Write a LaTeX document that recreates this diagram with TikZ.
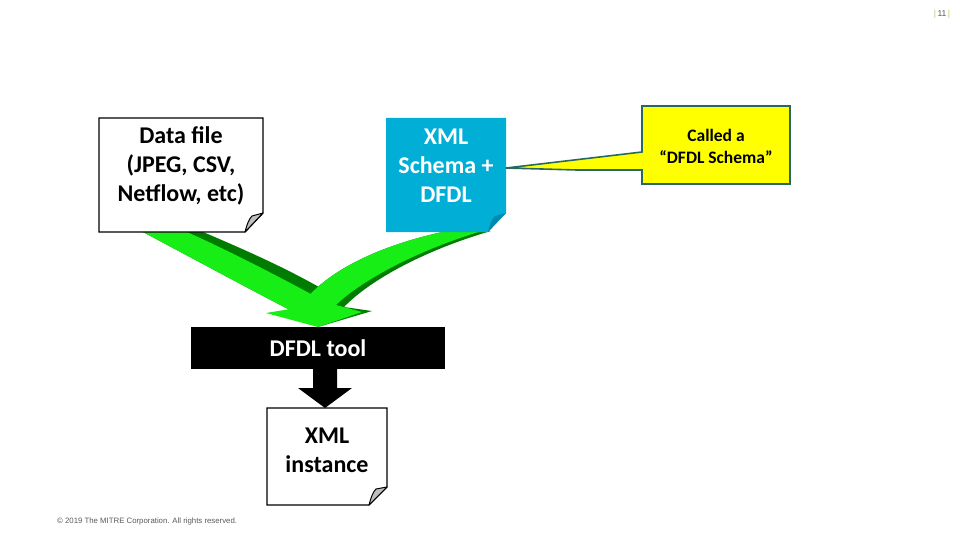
\documentclass[tikz,border=0pt]{standalone}
\usepackage{fontspec}
\setmainfont{Carlito}
\newfontfamily\arialfont{Liberation Sans}
\definecolor{lgreen}{RGB}{22,238,22}
\definecolor{dgreen}{RGB}{0,125,0}
\definecolor{sblue}{RGB}{0,174,214}
\definecolor{fblue}{RGB}{0,136,176}
\definecolor{cborder}{RGB}{40,105,95}
\definecolor{cyel}{RGB}{255,255,0}
\definecolor{foldgray}{RGB}{190,190,190}
\definecolor{copygray}{RGB}{90,90,90}
\definecolor{barcol}{RGB}{200,190,90}
\begin{document}
\begin{tikzpicture}[x=1pt,y=-1pt,
  bigtext/.style={font=\fontsize{24}{29}\selectfont\bfseries, align=center, inner sep=0pt},
  paperbox/.style={draw=black, line width=1.3pt, fill=white},
  foldw/.style={draw=black, line width=1pt, fill=foldgray, line join=round},
  ]
\useasboundingbox (0,0) rectangle (960,540);
\fill[white] (0,0) rectangle (960,540);

% ---- green arrows ----
\fill[dgreen] (143,232) .. controls (205,265) and (255,292) .. (290,310) -- (318,326) -- (336,297) .. controls (295,272) and (250,252) .. (203,232) -- cycle;
\fill[dgreen] (491,231) .. controls (425,250) and (370,280) .. (344,307) -- (372,311) -- (318,327) -- (305,300) .. controls (330,270) and (380,245) .. (447,231) -- cycle;
\fill[lgreen] (143,232) .. controls (205,265) and (255,292) .. (290,310) -- (318,326) -- (322,300) .. controls (285,280) and (240,256) .. (187,232) -- cycle;
\fill[lgreen] (482,231) .. controls (418,250) and (362,280) .. (336,305) -- (318,327) -- (305,300) .. controls (330,270) and (380,245) .. (447,231) -- cycle;
\fill[lgreen] (266,313) -- (290,309) -- (318,302) -- (336,305) -- (362,312) -- (318,327) -- cycle;

% ---- Data file box ----
\path[paperbox] (99,118) -- (263,118) -- (263,213) -- (245,232) -- (99,232) -- cycle;
\path[foldw] (245,232) .. controls (247,224) and (249,219) .. (252,216) -- (263,213) -- cycle;
\node[bigtext] (data) at (181,166) {Data file\\(JPEG, CSV,\\Netflow, etc)};

% ---- XML Schema box ----
\fill[sblue] (386,118) -- (506,118) -- (506,213) -- (488,232) -- (386,232) -- cycle;
\fill[fblue] (488,232) .. controls (490,224) and (492,219) .. (495,216) -- (506,213) -- cycle;
\node[bigtext, text=white] (schema) at (446,166) {XML\\Schema +\\DFDL};

% ---- callout ----
\path[draw=cborder, line width=1.6pt, fill=cyel, line join=miter]
  (642,106) -- (790,106) -- (790,184) -- (642,184) -- (642,170) -- (577,170) -- (506,168) -- (642,152) -- cycle;
\node[font=\fontsize{17.5}{22}\selectfont\bfseries, align=center, inner sep=0pt] (call) at (716,146) {Called a\\“DFDL Schema”};

% ---- DFDL tool ----
\fill[black] (191,327) rectangle (445,369);
\node[bigtext, text=white] (tool) at (318,348) {DFDL tool};

% ---- black arrow ----
\fill[black] (313,368) -- (337,368) -- (337,388) -- (352,388) -- (325,408) -- (298,388) -- (313,388) -- cycle;

% ---- XML instance ----
\path[paperbox] (267,408) -- (387,408) -- (387,487) -- (369,505) -- (267,505) -- cycle;
\path[foldw] (369,505) .. controls (371,497) and (373,492) .. (376,489) -- (387,487) -- cycle;
\node[bigtext] (inst) at (327,450) {XML\\instance};

% ---- footer / page number ----
\node[font=\arialfont\fontsize{7.8}{9}\selectfont, text=copygray, anchor=west, inner sep=0pt] (copy) at (57,521) {© 2019 The MITRE Corporation. All rights reserved.};
\node[font=\arialfont\fontsize{8.5}{9}\selectfont, text=copygray, inner sep=0pt] (page) at (942,14) {{\color{barcol}|}\,11\,{\color{barcol}|}};
\end{tikzpicture}
\end{document}
